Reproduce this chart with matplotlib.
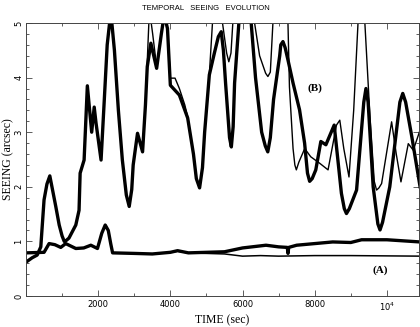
import matplotlib
matplotlib.use("Agg")
import matplotlib.pyplot as plt
from matplotlib.ticker import MultipleLocator, FixedLocator

# ---- data ----
t_b_thick = [0, 170, 310, 410, 500, 580, 660, 825, 920, 1000, 1060, 1120, 1190, 1380, 1470, 1500,
             1610, 1700, 1820, 1890, 1940, 2080, 2170, 2250, 2350, 2450, 2560, 2670,
             2780, 2860, 2930, 2970, 3090, 3230, 3310, 3360, 3460, 3620, 3750, 3830, 3920, 4000,
             4250, 4480, 4640, 4720, 4810, 4890, 4950, 5080, 5220, 5330, 5410, 5470, 5530,
             5640, 5690, 5740, 5780, 5920,
             6080, 6240, 6360, 6530, 6630, 6700, 6770, 6860, 7030, 7060, 7120, 7180, 7260, 7400,
             7580, 7720, 7800, 7860, 7930, 8030, 8170, 8310, 8540, 8740, 8820, 8880, 8960, 9160,
             9360, 9420, 9480, 9620, 9750, 9810, 9880, 10080,
             10360, 10440, 10520, 10690, 10920]
v_b_thick = [0.62, 0.70, 0.75, 0.90, 1.76, 2.05, 2.20, 1.64, 1.30, 1.10, 1.00, 1.02, 1.06, 1.30, 1.57, 2.25,
             2.49, 3.85, 3.00, 3.46, 3.17, 2.49, 3.60, 4.60, 5.20, 4.50, 3.40, 2.49,
             1.85, 1.64, 1.95, 2.40, 2.98, 2.64, 3.50, 4.20, 4.63, 4.17, 4.80, 5.15, 4.90, 3.86,
             3.68, 3.26, 2.60, 2.15, 1.98, 2.35, 3.00, 4.05, 4.45, 4.75, 4.84, 4.50, 3.90,
             2.90, 2.73, 3.10, 3.90, 5.20,
             5.40, 5.00, 4.00, 3.00, 2.75, 2.64, 2.90, 3.60, 4.40, 4.60, 4.66, 4.55, 4.32, 3.90,
             3.41, 2.80, 2.25, 2.10, 2.15, 2.31, 2.83, 2.77, 3.13, 1.88, 1.60, 1.51, 1.60, 1.94,
             3.55, 3.80, 3.55, 2.00, 1.32, 1.21, 1.35, 2.00,
             3.55, 3.71, 3.55, 2.92, 2.00]

t_b_thin = [0, 170, 310, 410, 500, 580, 660, 825, 920, 1000, 1060, 1120, 1190, 1380, 1470, 1500,
            1610, 1700, 1820, 1890, 1940, 2080, 2170, 2250, 2350, 2450, 2560, 2670,
            2780, 2860, 2930, 2970, 3090, 3230, 3310, 3360, 3420, 3510, 3620, 3750, 3830, 3920,
            4000, 4130, 4250, 4400, 4480, 4640, 4720, 4810, 4890, 4950, 5084, 5167, 5300, 5445,
            5560, 5620, 5680, 5731, 6000, 6334, 6473, 6640, 6703, 6770, 6842, 7050, 7259, 7300, 7400,
            7450, 7491, 7560, 7723, 7890, 8140, 8370, 8603, 8695, 8806, 8950, 9080, 9200, 9300, 9390,
            9530, 9650, 9714, 9780, 9854, 10131, 10260, 10390, 10593, 10731, 10920]
v_b_thin = [0.62, 0.70, 0.75, 0.90, 1.76, 2.05, 2.20, 1.64, 1.30, 1.10, 1.00, 1.02, 1.06, 1.30, 1.57, 2.25,
            2.49, 3.85, 3.00, 3.46, 3.17, 2.49, 3.60, 4.60, 5.20, 4.50, 3.40, 2.49,
            1.85, 1.64, 1.95, 2.40, 2.98, 2.64, 3.50, 4.30, 5.25, 4.80, 4.20, 4.80, 5.15, 4.90,
            3.99, 3.99, 3.80, 3.50, 3.28, 2.60, 2.15, 1.98, 2.35, 3.00, 4.10, 5.00, 5.50, 5.00,
            4.45, 4.29, 4.45, 5.00, 6.00, 5.00, 4.40, 4.08, 4.02, 4.10, 5.00, 5.80, 5.00, 3.83, 2.70,
            2.40, 2.31, 2.45, 2.70, 2.55, 2.43, 2.31, 3.13, 3.22, 2.70, 2.18, 3.40, 5.00, 6.00, 5.00,
            3.30, 2.10, 1.94, 1.98, 2.06, 3.19, 2.60, 2.09, 2.79, 2.67, 3.04]

t_a_thick = [0, 500, 640, 800, 963, 1100, 1380, 1600, 1797, 1980, 2100, 2195, 2280,
             2350, 2400, 3000, 3500, 4000, 4200, 4500, 5000, 5500, 6000, 6650, 7000,
             7240, 7260, 7280, 7500, 8000, 8500, 9000, 9300, 10000, 10920]
v_a_thick = [0.79, 0.80, 0.96, 0.94, 0.89, 0.96, 0.87, 0.88, 0.93, 0.87, 1.15, 1.30, 1.20,
             0.95, 0.79, 0.78, 0.77, 0.80, 0.83, 0.79, 0.80, 0.81, 0.88, 0.93, 0.90,
             0.89, 0.78, 0.89, 0.93, 0.96, 0.99, 0.98, 1.03, 1.03, 0.99]

t_a_thin = [0, 500, 640, 800, 963, 1100, 1380, 1600, 1797, 1980, 2100, 2195, 2280,
            2350, 2400, 3000, 3500, 4000, 4200, 4500, 5000, 5500, 6000, 6500, 7000,
            8000, 9000, 10920]
v_a_thin = [0.79, 0.80, 0.96, 0.94, 0.89, 0.96, 0.87, 0.88, 0.93, 0.87, 1.15, 1.30, 1.20,
            0.95, 0.79, 0.78, 0.77, 0.80, 0.82, 0.79, 0.78, 0.77, 0.73, 0.74, 0.73,
            0.74, 0.74, 0.73]

x_ticks = [2000, 4000, 6000, 8000, 10000]
x_tick_labels = ["2000", "4000", "6000", "8000", r"$10^4$"]
y_ticks = [0, 1, 2, 3, 4, 5]

# ---- figure ----
fig = plt.figure(figsize=(4.2, 3.27), dpi=100)
ax = fig.add_axes([26 / 420, 31 / 327, 393 / 420, 273 / 327])

ax.plot(t_a_thin, v_a_thin, color="black", lw=1.1, solid_joinstyle="round")
ax.plot(t_a_thick, v_a_thick, color="black", lw=2.4, solid_joinstyle="round")
ax.plot(t_b_thin, v_b_thin, color="black", lw=1.0, solid_joinstyle="round")
ax.plot(t_b_thick, v_b_thick, color="black", lw=2.4, solid_joinstyle="round")

ax.set_xlim(0, 10890)
ax.set_ylim(0, 5)

ax.xaxis.set_major_locator(FixedLocator(x_ticks))
ax.set_xticklabels(x_tick_labels)
ax.xaxis.set_minor_locator(MultipleLocator(1000))
ax.yaxis.set_major_locator(FixedLocator(y_ticks))
ax.yaxis.set_minor_locator(MultipleLocator(0.2))

ax.tick_params(which="both", direction="in", top=True, right=True,
               labelsize=6, color="#444444", width=0.6)
ax.tick_params(axis="x", pad=3)
ax.tick_params(axis="y", pad=2)
ax.tick_params(which="major", length=4)
ax.tick_params(which="minor", length=2)
for lab in ax.get_yticklabels():
    lab.set_rotation(90)
    lab.set_va("center")
for s in ax.spines.values():
    s.set_linewidth(0.7)
    s.set_color("#444444")

serif = ["Liberation Serif", "DejaVu Serif"]
ax.set_xlabel("TIME (sec)", family=serif, fontsize=8.5, labelpad=1)
ax.set_ylabel("SEEING (arcsec)", family=serif, fontsize=8.5, labelpad=0)

fig.text(0.49, 0.985, "TEMPORAL   SEEING   EVOLUTION", ha="center", va="top",
         fontsize=5.5, family=["Liberation Sans", "DejaVu Sans"])

ax.text(8000, 3.80, "(B)", family=serif, fontweight="bold", fontsize=8,
        ha="center", va="center")
ax.text(9810, 0.48, "(A)", family=serif, fontweight="bold", fontsize=8,
        ha="center", va="center")

fig.savefig("out.png", dpi=100)
